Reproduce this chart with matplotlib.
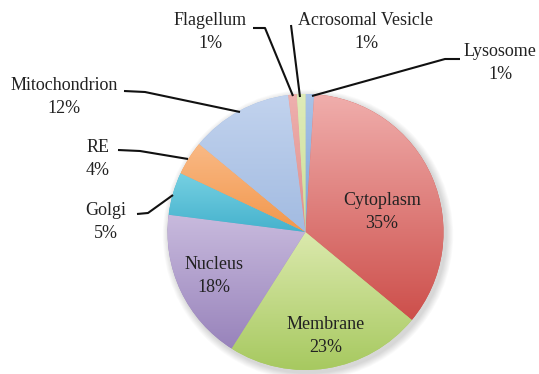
import numpy as np
import matplotlib
matplotlib.use("Agg")
import matplotlib.pyplot as plt
from matplotlib.patches import Circle
from matplotlib.colors import to_rgb

# Protein localisation shares (clockwise from 12 o'clock)
categories = ["Lysosome", "Cytoplasm", "Membrane", "Nucleus", "Golgi", "RE",
              "Mitochondrion", "Flagellum", "Acrosomal Vesicle"]
shares = [1, 35, 23, 18, 5, 4, 12, 1, 1]
pct_labels = ["1%", "35%", "23%", "18%", "5%", "4%", "12%", "1%", "1%"]

# (top, bottom) gradient colours per slice
colors_top = ["#a9c3e8", "#f0aeac", "#dbe9ad", "#c8badd", "#76d0e2", "#f9b985",
              "#c2d3ee", "#eeb0ae", "#dfebb8"]
colors_bot = ["#7ea4d8", "#cd4f4b", "#a7c960", "#9883bb", "#45b2cd", "#f2974c",
              "#a2bbe1", "#e08f8c", "#cddf98"]

W, H = 539, 374
fig = plt.figure(figsize=(W / 100, H / 100), dpi=100)
ax = fig.add_axes([0, 0, 1, 1])

cx, cy, R = 305.5, H - 232.0, 138.0

# soft drop shadow behind the pie
for k in range(8, 0, -1):
    ax.add_patch(Circle((cx + 2.5, cy - 3.0), R + k * 0.9, color="#000000",
                        alpha=0.018, lw=0, zorder=0))

wedges, _ = ax.pie(shares, startangle=90, counterclock=False, center=(cx, cy),
                   radius=R, colors=colors_bot,
                   wedgeprops=dict(linewidth=0, edgecolor="none"))
ax.set_xlim(0, W)
ax.set_ylim(0, H)
ax.set_aspect("equal")
ax.axis("off")

# vertical gradient inside every slice
for w, ct, cb in zip(wedges, colors_top, colors_bot):
    ext = w.get_path().get_extents()
    n = 128
    t = np.linspace(0, 1, n)[:, None]
    top = np.array(to_rgb(ct))
    bot = np.array(to_rgb(cb))
    grad = bot[None, :] * (1 - t) + top[None, :] * t
    img = ax.imshow(grad[:, None, :], extent=(ext.x0, ext.x1, ext.y0, ext.y1),
                    origin="lower", aspect="auto", interpolation="bilinear",
                    zorder=w.get_zorder() + 0.1)
    img.set_clip_path(w)

ax.set_xlim(0, W)
ax.set_ylim(0, H)

font = dict(family="Liberation Serif", fontsize=13, color="#222222",
            ha="center", va="center", linespacing=1.4)

# labels inside the large slices
inside = {"Cytoplasm": (382, 212), "Membrane": (326, 336), "Nucleus": (214, 276)}
# labels outside with leader lines (label centre, leader path in image px)
outside = {
    "Flagellum": ((210, 32), [(253, 28), (265, 28), (293, 96)]),
    "Acrosomal Vesicle": ((366, 32), [(291, 25), (300, 97)]),
    "Lysosome": ((500, 63), [(460, 59), (445, 59), (312, 96)]),
    "Mitochondrion": ((64, 97), [(124, 91), (145, 92), (240, 112)]),
    "RE": ((98, 159), [(118, 150), (140, 151), (188, 159)]),
    "Golgi": ((106, 222), [(137, 214), (148, 213), (173, 195)]),
}

for name, pct in zip(categories, pct_labels):
    txt = f"{name}\n{pct}"
    if name in inside:
        x, y = inside[name]
        ax.text(x, H - y, txt, zorder=5, **font)
    else:
        (x, y), path = outside[name]
        ax.text(x, H - y, txt, zorder=5, **font)
        px = [p[0] for p in path]
        py = [H - p[1] for p in path]
        ax.plot(px, py, color="#111111", lw=1.5, zorder=4,
                solid_capstyle="butt")

fig.savefig("out.png", dpi=100)
